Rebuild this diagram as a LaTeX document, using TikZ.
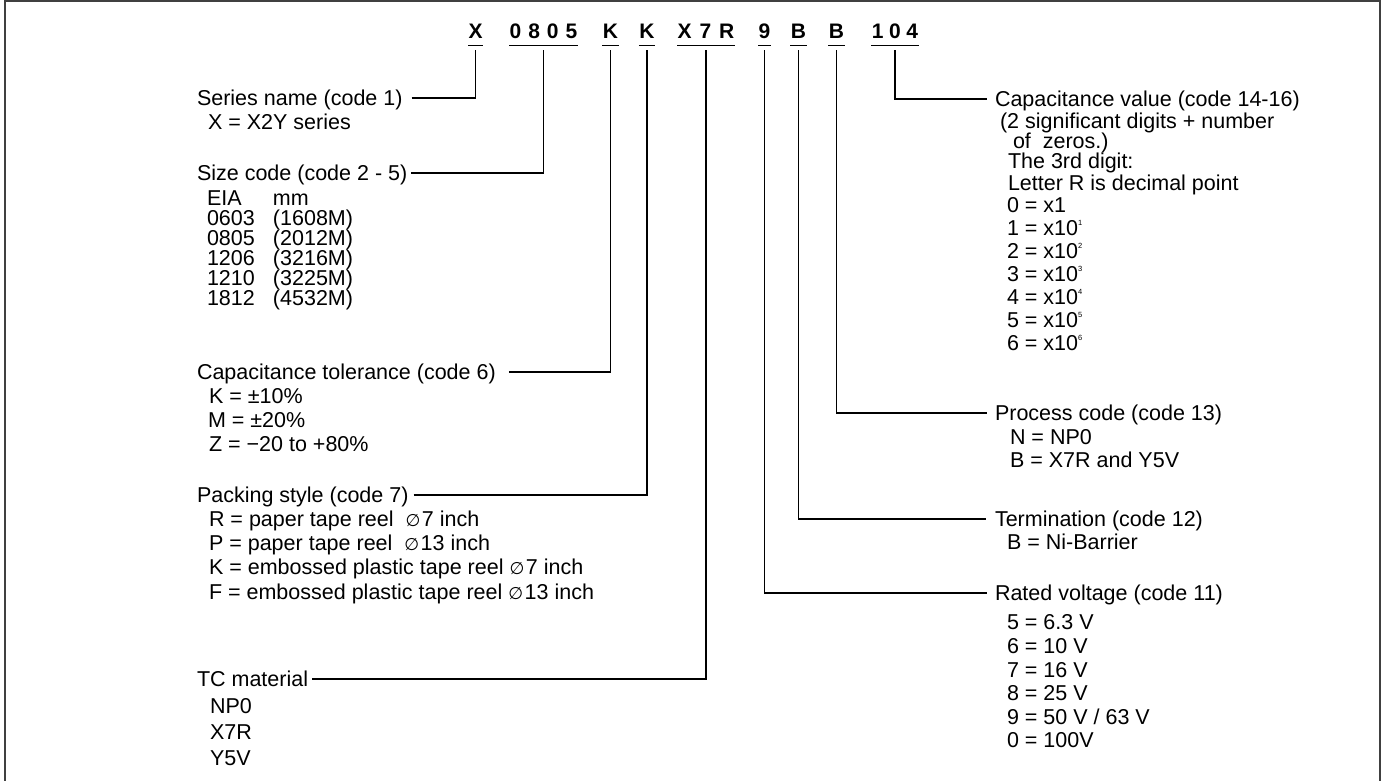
\documentclass[tikz,border=0pt]{standalone}
\usepackage{fontspec}
\setmainfont{Liberation Sans}
\newfontfamily\djv{DejaVu Sans}
\newcommand\sps[1]{\raisebox{10pt}{\fontsize{7.5}{8}\selectfont #1}}
\newcommand\dia{{\djv\fontsize{17}{20}\selectfont ∅}\kern1.5pt}
\begin{document}
\begin{tikzpicture}[x=1pt,y=-1pt,
  every node/.style={inner sep=0pt, outer sep=0pt},
  txt/.style={anchor=west, font=\fontsize{21.5}{24}\selectfont, text height=15.4pt, text depth=0pt},
  code/.style={font=\fontsize{21}{24}\selectfont\bfseries, text height=15pt, text depth=0pt, inner ysep=7pt, inner xsep=0.5pt},
  ul/.style={line width=1.8pt},
  conn/.style={line width=1.5pt, black},
  frame/.style={line width=1.6pt, black!75}]
\useasboundingbox (0,0) rectangle (1383,781);
\draw[frame] (5,781) -- (5,1) -- (1380,1) -- (1380,781);

% part number code
\node[code] (gX)   at (475.5,31) {X};
\node[code] (g0805) at (543.5,31) {0\kern7pt 8\kern7pt 0\kern7pt 5};
\node[code] (gK1)  at (610.5,31) {K};
\node[code] (gK2)  at (647,31) {K};
\node[code] (gX7R) at (706,31) {X\kern8pt 7\kern8pt R};
\node[code] (g9)   at (764.5,31) {9};
\node[code] (gB1)  at (798.5,31) {B};
\node[code] (gB2)  at (836.5,31) {B};
\node[code] (g104) at (895,31) {1\kern5.5pt 0\kern5.5pt 4};
\foreach \g in {gX,g0805,gK1,gK2,gX7R,g9,gB1,gB2,g104}
  \draw[ul] (\g.south west) -- (\g.south east);

% left column
\node[txt] (ser)  at (197,98) {Series name (code 1)};
\node[txt] (ser1) at (208,122) {X = X2Y series};

\node[txt] (siz) at (197,173) {Size code (code 2 - 5)};
\foreach \a/\b [count=\i] in {EIA/mm, 0603/(1608M), 0805/(2012M), 1206/(3216M), 1210/(3225M), 1812/(4532M)}
  \node[txt] (siz\i) at (207,178+20*\i) {\makebox[66pt][l]{\a}\b};

\node[txt] (tol)  at (197,372) {Capacitance tolerance (code 6)};
\node[txt] (tol1) at (209,396) {K = ±10\%};
\node[txt] (tol2) at (208,420) {M = ±20\%};
\node[txt] (tol3) at (209,444) {Z = −20 to +80\%};

\node[txt] (pack)  at (197,495) {Packing style (code 7)};
\node[txt] (pack1) at (209,519) {R = paper tape reel\ \ \dia7 inch};
\node[txt] (pack2) at (209,543) {P = paper tape reel\ \ \dia13 inch};
\node[txt] (pack3) at (209,567) {K = embossed plastic tape reel\ \dia7 inch};
\node[txt] (pack4) at (209,592) {F = embossed plastic tape reel\ \dia13 inch};

\node[txt] (tc)  at (197,679) {TC material};
\node[txt] (tc1) at (210,706) {NP0};
\node[txt] (tc2) at (210,732) {X7R};
\node[txt] (tc3) at (210,758) {Y5V};

% right column
\node[txt] (capv)  at (995,99) {Capacitance value (code 14-16)};
\node[txt] (capv1) at (1000,121) {(2 significant digits + number};
\node[txt] (capv2) at (1013,141) {of\ \ zeros.)};
\node[txt] (capv3) at (1008,161) {The 3rd digit:};
\node[txt] (capv4) at (1008,183) {Letter R is decimal point};
\node[txt] (capv5) at (1007,205) {0 = x1};
\foreach \k in {1,...,6}
  \node[txt] (capx\k) at (1007,205+23*\k) {\k\ = x10\sps{\k}};

\node[txt] (proc)  at (995,413) {Process code (code 13)};
\node[txt] (proc1) at (1010,437) {N = NP0};
\node[txt] (proc2) at (1010,460) {B = X7R and Y5V};

\node[txt] (term)  at (995,519) {Termination (code 12)};
\node[txt] (term1) at (1007,542) {B = Ni-Barrier};

\node[txt] (rat) at (995,593) {Rated voltage (code 11)};
\foreach \t [count=\i] in {5 = 6.3 V, 6 = 10 V, 7 = 16 V, 8 = 25 V, 9 = 50 V / 63 V, 0 = 100V}
  \node[txt] (rat\i) at (1007,598.5+23.6*\i) {\t};

% connectors
\draw[conn] ([xshift=9pt]ser.east)  -| ([yshift=-5pt]gX.south);
\draw[conn] ([xshift=4pt]siz.east)  -| ([yshift=-5pt]g0805.south);
\draw[conn] ([xshift=13pt]tol.east) -| ([yshift=-5pt]gK1.south);
\draw[conn] ([xshift=5pt]pack.east) -| ([yshift=-5pt]gK2.south);
\draw[conn] ([xshift=4pt]tc.east)   -| ([yshift=-5pt]gX7R.south);
\draw[conn] ([yshift=-5pt]g9.south)   |- ([xshift=-8pt]rat.west);
\draw[conn] ([yshift=-5pt]gB1.south)  |- ([xshift=-9pt]term.west);
\draw[conn] ([yshift=-5pt]gB2.south)  |- ([xshift=-8pt]proc.west);
\draw[conn] ([yshift=-5pt]g104.south) |- ([xshift=-8pt]capv.west);
\end{tikzpicture}
\end{document}
